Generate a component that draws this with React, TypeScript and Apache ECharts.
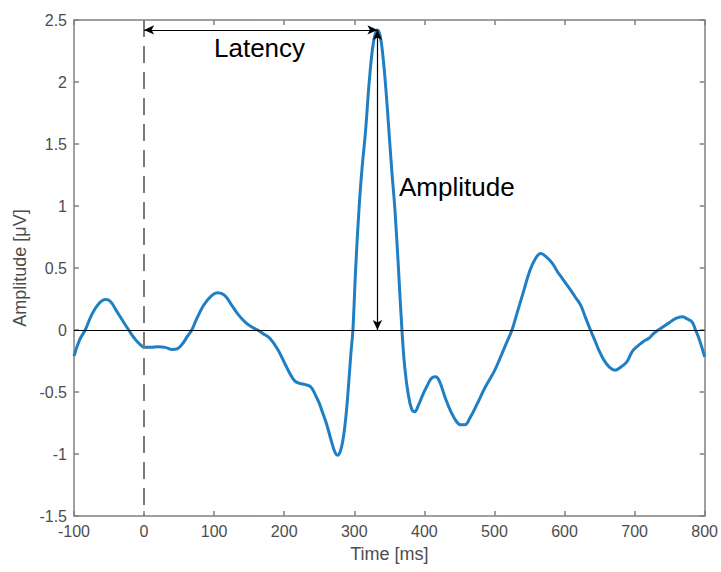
import React, { useEffect, useRef } from "react";
import * as echarts from "echarts";

const timeMs: number[] = [
  -100, -92, -84, -75, -65, -55, -48, -40, -30, -22, -12, -5, 0, 10, 20, 30, 40, 48, 55, 62, 68, 75, 85, 95, 105,
  115, 125, 135, 145, 155, 162, 170, 180, 190, 200, 208, 215, 222, 230, 238, 245, 250, 255, 260, 267, 272, 276,
  280, 284, 288, 292, 295, 298, 302, 307, 311, 316, 321, 326, 330, 333, 337, 341, 345, 350, 354, 358, 363, 368,
  372, 377, 382, 386, 392, 398, 404, 410, 416, 422, 430, 438, 446, 452, 458, 465, 475, 487, 500, 510, 516, 525,
  533, 542, 550, 558, 566, 574, 583, 590, 597, 609, 616, 623, 630, 637, 643, 649, 656, 664, 672, 680, 689, 697,
  706, 713, 720, 727, 734, 744, 750, 756, 762, 768, 775, 782, 787, 791, 796, 800,
];

const amplitudeUV: number[] = [
  -0.21, -0.08, 0.0, 0.12, 0.21, 0.245, 0.23, 0.16, 0.07, 0.0, -0.08, -0.12, -0.14, -0.14, -0.135, -0.14, -0.157,
  -0.15, -0.11, -0.05, 0.0, 0.09, 0.2, 0.27, 0.3, 0.28, 0.2, 0.12, 0.06, 0.02, 0.0, -0.03, -0.07, -0.15, -0.26,
  -0.35, -0.41, -0.43, -0.44, -0.46, -0.53, -0.59, -0.67, -0.75, -0.89, -0.98, -1.01, -0.98, -0.88, -0.7, -0.43,
  -0.2, 0.0, 0.5, 1.0, 1.3, 1.6, 1.98, 2.27, 2.39, 2.42, 2.37, 2.2, 1.95, 1.56, 1.25, 0.97, 0.5, 0.0, -0.3, -0.52,
  -0.64, -0.66, -0.6, -0.52, -0.45, -0.39, -0.378, -0.42, -0.55, -0.66, -0.74, -0.765, -0.765, -0.71, -0.6, -0.46,
  -0.33, -0.2, -0.12, 0.0, 0.15, 0.32, 0.47, 0.57, 0.616, 0.59, 0.536, 0.47, 0.415, 0.32, 0.26, 0.2, 0.1, 0.0,
  -0.08, -0.163, -0.24, -0.3, -0.324, -0.3, -0.257, -0.17, -0.122, -0.09, -0.069, -0.03, 0.0, 0.039, 0.06, 0.085,
  0.1, 0.106, 0.09, 0.065, 0.0, -0.055, -0.14, -0.217,
];

const stimulusTime = 0;
const peakTime = 333;
const peakAmplitude = 2.42;

const xTicks = { min: -100, max: 800, interval: 100 };
const yTicks = { min: -1.5, max: 2.5, interval: 0.5 };

const FONT = "'Liberation Sans', Arial, Helvetica, sans-serif";
const AXIS_GRAY = "#808080";
const LABEL_GRAY = "#4d4d4d";

export default function App() {
  const ref = useRef<HTMLDivElement>(null);

  useEffect(() => {
    if (!ref.current) return;
    const chart = echarts.init(ref.current, undefined, { renderer: "svg" });
    const data = timeMs.map((t, i) => [t, amplitudeUV[i]]);

    const axisCommon = {
      splitLine: { show: false },
      axisLine: { show: true, onZero: false, lineStyle: { color: AXIS_GRAY, width: 1.5 } },
      axisTick: { show: true, inside: true, length: 5, lineStyle: { color: AXIS_GRAY, width: 1.5 } },
    };

    chart.setOption({
      animation: false,
      backgroundColor: "#ffffff",
      grid: { left: 74, right: 15, top: 20, bottom: 56 },
      xAxis: [
        {
          type: "value",
          ...xTicks,
          position: "bottom",
          ...axisCommon,
          axisLabel: { color: LABEL_GRAY, fontSize: 16, fontFamily: FONT, margin: 7 },
          name: "Time [ms]",
          nameLocation: "middle",
          nameGap: 29,
          nameTextStyle: { color: LABEL_GRAY, fontSize: 18, fontFamily: FONT },
        },
        {
          type: "value",
          ...xTicks,
          position: "top",
          ...axisCommon,
          axisLabel: { show: false },
        },
      ],
      yAxis: [
        {
          type: "value",
          ...yTicks,
          position: "left",
          ...axisCommon,
          axisLabel: { color: LABEL_GRAY, fontSize: 16, fontFamily: FONT, margin: 7 },
          name: "Amplitude [μV]",
          nameLocation: "middle",
          nameGap: 44,
          nameTextStyle: { color: LABEL_GRAY, fontSize: 18, fontFamily: FONT },
        },
        {
          type: "value",
          ...yTicks,
          position: "right",
          ...axisCommon,
          axisLabel: { show: false },
        },
      ],
      series: [
        {
          type: "line",
          data,
          xAxisIndex: 0,
          yAxisIndex: 0,
          showSymbol: false,
          smooth: 0.4,
          lineStyle: { color: "#1f7fc4", width: 3 },
          z: 3,
          markLine: {
            silent: true,
            animation: false,
            label: { show: false },
            data: [
              [
                { coord: [xTicks.min, 0], symbol: "none", lineStyle: { color: "#000", width: 1, type: "solid" } },
                { coord: [xTicks.max, 0], symbol: "none" },
              ],
              [
                {
                  coord: [stimulusTime, yTicks.max],
                  symbol: "none",
                  lineStyle: { color: "#7a7a7a", width: 2, type: [17, 9] },
                },
                { coord: [stimulusTime, yTicks.min], symbol: "none" },
              ],
              [
                {
                  coord: [stimulusTime, peakAmplitude],
                  symbol: "arrow",
                  symbolSize: [7, 10],
                  lineStyle: { color: "#000", width: 1.2, type: "solid" },
                },
                { coord: [peakTime, peakAmplitude], symbol: "arrow", symbolSize: [7, 10] },
              ],
              [
                {
                  coord: [peakTime, peakAmplitude],
                  symbol: "arrow",
                  symbolSize: [7, 10],
                  lineStyle: { color: "#000", width: 1.2, type: "solid" },
                },
                { coord: [peakTime, 0], symbol: "arrow", symbolSize: [7, 10] },
              ],
            ],
          },
        },
      ],
      graphic: [
        {
          type: "text",
          x: 214,
          y: 47.6,
          style: {
            text: "Latency",
            fill: "#000",
            font: `26px ${FONT}`,
            verticalAlign: "middle",
            align: "left",
          },
        },
        {
          type: "text",
          x: 399,
          y: 186.6,
          style: {
            text: "Amplitude",
            fill: "#000",
            font: `26px ${FONT}`,
            verticalAlign: "middle",
            align: "left",
          },
        },
      ],
    });

    return () => chart.dispose();
  }, []);

  return (
    <div
      ref={ref}
      style={{ position: "fixed", left: 0, top: 0, width: 721, height: 572, background: "#fff" }}
    />
  );
}
